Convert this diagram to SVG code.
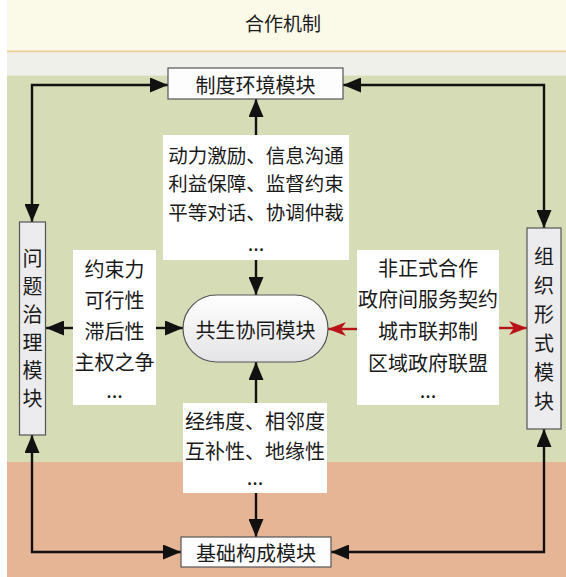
<svg xmlns="http://www.w3.org/2000/svg" width="566" height="577" viewBox="0 0 566 577">
<style>
text{font-family:"Noto Sans CJK SC","Liberation Sans",sans-serif;font-size:20px;fill:#1a1a1a;text-anchor:middle}
.c{dominant-baseline:central}
.s{font-size:19.5px}
.mod{fill:#fdfdfd;stroke:#555;stroke-width:1.2}
.vmod{fill:#ececef;stroke:#555;stroke-width:1.2}
.tb{fill:#ffffff}
.ln{fill:none;stroke:#111;stroke-width:2.4}
.rl{fill:none;stroke:#b81418;stroke-width:2.4}
</style>
<defs>
<marker id="ah" markerUnits="userSpaceOnUse" markerWidth="20" markerHeight="15" refX="18" refY="7.5" orient="auto-start-reverse">
<path d="M0,0 L18,7.5 L0,15 z" fill="#111"/>
</marker>
<marker id="rh" markerUnits="userSpaceOnUse" markerWidth="20" markerHeight="14" refX="18" refY="7" orient="auto-start-reverse">
<path d="M0,0 L18,7 L0,14 L5,7 z" fill="#b81418"/>
</marker>
<linearGradient id="pill" x1="0" y1="0" x2="0" y2="1">
<stop offset="0" stop-color="#ffffff"/>
<stop offset="1" stop-color="#e4e4e6"/>
</linearGradient>
</defs>
<rect x="0" y="0" width="566" height="577" fill="#ffffff"/>
<rect x="7" y="0" width="559" height="51" fill="#fbf9e8"/>
<rect x="7" y="50.5" width="559" height="2" fill="#e9cf96"/>
<rect x="7" y="52.5" width="559" height="23" fill="#f0f0ea"/>
<rect x="7" y="75.5" width="559" height="387" fill="#d6dcb6"/>
<rect x="7" y="462" width="559" height="115" fill="#e6b596"/>
<text x="283" y="22" class="c" style="font-size:19px">合作机制</text>

<g id="connectors">
<path class="ln" d="M32,222 V85 H168" marker-start="url(#ah)" marker-end="url(#ah)"/>
<path class="ln" d="M544,228 V85 H343" marker-start="url(#ah)" marker-end="url(#ah)"/>
<path class="ln" d="M32,435 V552 H181" marker-start="url(#ah)" marker-end="url(#ah)"/>
<path class="ln" d="M544,429 V552 H331" marker-start="url(#ah)" marker-end="url(#ah)"/>
<path class="ln" d="M256,135 V99" marker-end="url(#ah)"/>
<path class="ln" d="M256,260 V295" marker-end="url(#ah)"/>
<path class="ln" d="M256,403 V362" marker-end="url(#ah)"/>
<path class="ln" d="M256,493 V537" marker-end="url(#ah)"/>
<path class="ln" d="M73,328 H46" marker-end="url(#ah)"/>
<path class="ln" d="M156,328 H183" marker-end="url(#ah)"/>
<path class="rl" d="M357,329 H328" marker-end="url(#rh)"/>
<path class="rl" d="M499,328 H527" marker-end="url(#rh)"/>
</g>

<g id="zhidu">
<rect class="mod" x="168" y="68" width="175" height="31"/>
<text x="255.5" y="84" class="c">制度环境模块</text>
</g>
<g id="jichu">
<rect class="mod" x="181" y="537" width="150" height="30"/>
<text x="256" y="552.5" class="c">基础构成模块</text>
</g>
<g id="wenti">
<rect class="vmod" x="19.5" y="222" width="26" height="213"/>
<text x="32.5" y="257" class="c">问</text>
<text x="32.5" y="285" class="c">题</text>
<text x="32.5" y="313" class="c">治</text>
<text x="32.5" y="341" class="c">理</text>
<text x="32.5" y="369" class="c">模</text>
<text x="32.5" y="397" class="c">块</text>
</g>
<g id="zuzhi">
<rect class="vmod" x="527" y="228" width="34" height="201"/>
<text x="544" y="255" class="c">组</text>
<text x="544" y="284" class="c">织</text>
<text x="544" y="313" class="c">形</text>
<text x="544" y="342" class="c">式</text>
<text x="544" y="371" class="c">模</text>
<text x="544" y="400" class="c">块</text>
</g>
<g id="gongsheng">
<rect x="183" y="295" width="145" height="67" rx="33.5" ry="33.5" fill="url(#pill)" stroke="#555" stroke-width="1.2"/>
<text x="255.5" y="329" class="c">共生协同模块</text>
</g>
<g id="top-text">
<rect class="tb" x="163" y="135" width="186" height="125"/>
<text x="256" y="154" class="c s">动力激励、信息沟通</text>
<text x="256" y="182.5" class="c s">利益保障、监督约束</text>
<text x="256" y="211" class="c s">平等对话、协调仲裁</text>
<text x="256" y="251">...</text>
</g>
<g id="left-text">
<rect class="tb" x="73" y="250" width="83" height="155"/>
<text x="114.5" y="268" class="c">约束力</text>
<text x="114.5" y="299" class="c">可行性</text>
<text x="114.5" y="330" class="c">滞后性</text>
<text x="114.5" y="361" class="c">主权之争</text>
<text x="114.5" y="398">...</text>
</g>
<g id="right-text">
<rect class="tb" x="357" y="250" width="142" height="155"/>
<text x="428" y="267" class="c">非正式合作</text>
<text x="428" y="298" class="c">政府间服务契约</text>
<text x="428" y="330" class="c">城市联邦制</text>
<text x="428" y="362" class="c">区域政府联盟</text>
<text x="428" y="398">...</text>
</g>
<g id="bottom-text">
<rect class="tb" x="183" y="403" width="144" height="90"/>
<text x="255" y="420" class="c">经纬度、相邻度</text>
<text x="255" y="450" class="c">互补性、地缘性</text>
<text x="255" y="485">...</text>
</g>
</svg>
